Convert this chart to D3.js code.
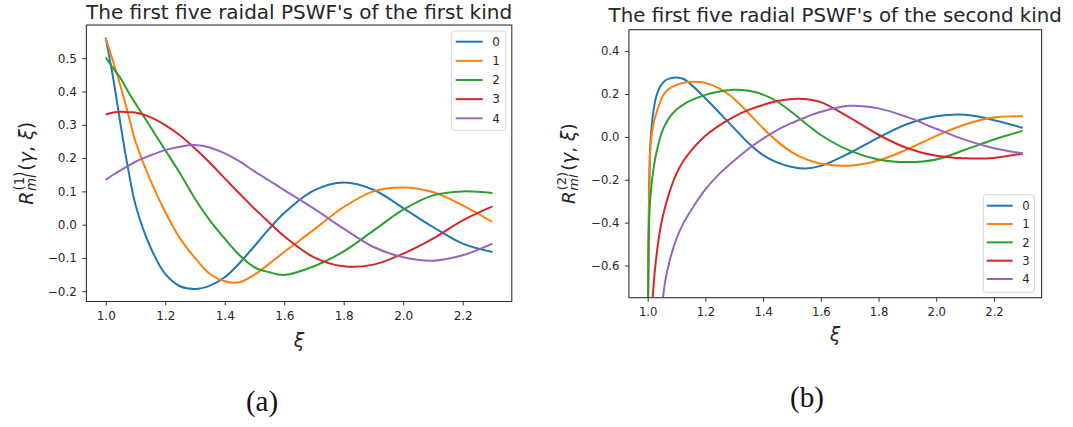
<!DOCTYPE html>
<html>
<head>
<meta charset="utf-8">
<script src="https://cdn.jsdelivr.net/npm/d3@7"></script>
<style>
  html, body { margin: 0; padding: 0; background: #fff; }
  svg { display: block; }
</style>
</head>
<body>
<svg id="chart" width="1073" height="427"></svg>
<script>
// =============================================================================
// Data - values
// =============================================================================
const SERIES_LABELS = ['0', '1', '2', '3', '4'];
const SERIES_COLORS = ['#1f77b4', '#ff7f0e', '#2ca02c', '#d62728', '#9467bd'];

// (a) radial PSWF's of the first kind
const XI_FIRST = [1.0, 1.025, 1.05, 1.075, 1.1, 1.15, 1.2, 1.25, 1.3, 1.35, 1.4, 1.45,
                  1.5, 1.55, 1.6, 1.7, 1.8, 1.9, 2.0, 2.1, 2.2, 2.3];
const R1_0 = [0.562, 0.44, 0.30, 0.169, 0.06, -0.067, -0.148, -0.185, -0.193, -0.183, -0.158, -0.115,
              -0.064, -0.012, 0.035, 0.103, 0.127, 0.105, 0.05, -0.007, -0.057, -0.082];
const R1_1 = [0.56, 0.49, 0.415, 0.334, 0.25, 0.134, 0.038, -0.042, -0.1, -0.148, -0.17, -0.173,
              -0.15, -0.117, -0.082, -0.015, 0.053, 0.1, 0.112, 0.098, 0.058, 0.008];
const R1_2 = [0.502, 0.47, 0.44, 0.40, 0.364, 0.294, 0.224, 0.154, 0.078, 0.013, -0.042, -0.092,
              -0.128, -0.143, -0.151, -0.125, -0.08, -0.018, 0.045, 0.088, 0.1, 0.095];
const R1_3 = [0.331, 0.337, 0.339, 0.338, 0.337, 0.323, 0.299, 0.268, 0.229, 0.186, 0.139, 0.093,
              0.048, 0.006, -0.035, -0.098, -0.125, -0.12, -0.087, -0.042, 0.013, 0.055];
const R1_4 = [0.135, 0.15, 0.163, 0.176, 0.189, 0.208, 0.224, 0.234, 0.239, 0.232, 0.214, 0.19,
              0.16, 0.132, 0.104, 0.048, -0.012, -0.067, -0.098, -0.108, -0.092, -0.057];

// (b) radial PSWF's of the second kind (log singularity at xi = 1)
const XI_SECOND = [1.001, 1.005, 1.01, 1.02, 1.03, 1.04, 1.05, 1.06, 1.075, 1.1, 1.125, 1.15,
                   1.2, 1.25, 1.3, 1.35, 1.4, 1.45, 1.5, 1.55, 1.6, 1.7, 1.8, 1.9, 2.0, 2.1, 2.2, 2.3];
const R2_0 = [-0.8, -0.25, -0.02, 0.12, 0.19, 0.225, 0.247, 0.262, 0.272, 0.277, 0.27, 0.245,
              0.18, 0.11, 0.04, -0.03, -0.085, -0.12, -0.14, -0.147, -0.135, -0.075, -0.003, 0.06,
              0.096, 0.103, 0.078, 0.042];
const R2_1 = [-0.9, -0.3, -0.04, 0.06, 0.11, 0.15, 0.184, 0.205, 0.225, 0.243, 0.253, 0.257,
              0.252, 0.225, 0.177, 0.11, 0.04, -0.022, -0.072, -0.105, -0.125, -0.134, -0.11, -0.058,
              0.005, 0.058, 0.09, 0.096];
const R2_2 = [-0.95, -0.4, -0.27, -0.15, -0.075, -0.02, 0.025, 0.055, 0.09, 0.128, 0.152, 0.17,
              0.196, 0.212, 0.22, 0.215, 0.197, 0.164, 0.115, 0.06, 0.009, -0.064, -0.105, -0.117,
              -0.105, -0.06, -0.012, 0.028];
const R2_3 = [-1.8, -1.3, -0.95, -0.70, -0.56, -0.46, -0.385, -0.33, -0.26, -0.17, -0.11, -0.065,
              0.005, 0.055, 0.095, 0.126, 0.149, 0.167, 0.177, 0.176, 0.162, 0.09, 0.01, -0.053,
              -0.088, -0.1, -0.098, -0.077];
const R2_4 = [-3.0, -2.5, -2.0, -1.5, -1.2, -0.98, -0.79, -0.68, -0.583, -0.474, -0.40, -0.343,
              -0.245, -0.17, -0.11, -0.055, -0.008, 0.033, 0.065, 0.093, 0.117, 0.145, 0.133, 0.092,
              0.038, -0.014, -0.053, -0.077];

const X_TICKS = [1.0, 1.2, 1.4, 1.6, 1.8, 2.0, 2.2];
const Y_TICKS_FIRST = [-0.2, -0.1, 0.0, 0.1, 0.2, 0.3, 0.4, 0.5];
const Y_TICKS_SECOND = [-0.6, -0.4, -0.2, 0.0, 0.2, 0.4];

// =============================================================================
// Visual configuration
// =============================================================================
const FONT = 'DejaVu Sans, sans-serif';
const TEXT_COLOR = '#262626';
const SPINE_COLOR = '#333';
const LINE_WIDTH = 2;

const svg = d3.select('#chart');

const panels = [
    {
        id: 'a',
        frame: { left: 86.4, right: 511.8, top: 25, bottom: 301.5 },
        xs: XI_FIRST,
        series: [R1_0, R1_1, R1_2, R1_3, R1_4],
        yDomain: null, // autoscaled with 5% margins like matplotlib
        yTicks: Y_TICKS_FIRST,
        tickFont: 12,
        title: "The first five raidal PSWF's of the first kind",
        titleSize: 20,
        titleY: 18.8,
        sup: '1',
        yLabelX: 32.5,
        labelSize: 19,
        xLabelY: 347,
        legend: { x: 451.7, y: 31, w: 54, h: 99.3, rowY: 41.7, rowGap: 19.15, lineW: 27, pad: 4 },
        caption: '(a)',
        captionX: 262,
        captionY: 411
    },
    {
        id: 'b',
        frame: { left: 628.9, right: 1041.6, top: 29.7, bottom: 297.7 },
        xs: XI_SECOND,
        series: [R2_0, R2_1, R2_2, R2_3, R2_4],
        yDomain: [-0.75, 0.5],
        yTicks: Y_TICKS_SECOND,
        tickFont: 11.6,
        title: "The first five radial PSWF's of the second kind",
        titleSize: 19.8,
        titleY: 22,
        sup: '2',
        yLabelX: 574.5,
        labelSize: 18.5,
        xLabelY: 341,
        legend: { x: 983.3, y: 194.7, w: 51.2, h: 97.6, rowY: 205.7, rowGap: 18.33, lineW: 26, pad: 3.4 },
        caption: '(b)',
        captionX: 807,
        captionY: 407
    }
];

panels.forEach(p => drawPanel(p));

function drawPanel(p) {
    const f = p.frame;

    // matplotlib default x margins: 5% of the data span on each side
    const xExt = d3.extent(p.xs);
    const xPad = (xExt[1] - 1.0) * 0.05;
    const xScale = d3.scaleLinear()
        .domain([1.0 - xPad, xExt[1] + xPad])
        .range([f.left, f.right]);

    let yDomain = p.yDomain;
    if (!yDomain) {
        const lo = d3.min(p.series, s => d3.min(s));
        const hi = d3.max(p.series, s => d3.max(s));
        const pad = (hi - lo) * 0.05;
        yDomain = [lo - pad, hi + pad];
    }
    const yScale = d3.scaleLinear()
        .domain(yDomain)
        .range([f.bottom, f.top]);

    // Clip path so the singular branches stop at the frame
    svg.append('defs')
        .append('clipPath')
        .attr('id', 'clip-' + p.id)
        .append('rect')
        .attr('x', f.left)
        .attr('y', f.top)
        .attr('width', f.right - f.left)
        .attr('height', f.bottom - f.top);

    const line = d3.line()
        .x((d, i) => xScale(p.xs[i]))
        .y(d => yScale(d))
        .curve(d3.curveCatmullRom.alpha(0.5));

    svg.append('g')
        .attr('clip-path', `url(#clip-${p.id})`)
        .selectAll('path')
        .data(p.series)
        .join('path')
        .attr('d', d => line(d))
        .attr('fill', 'none')
        .attr('stroke', (d, i) => SERIES_COLORS[i])
        .attr('stroke-width', LINE_WIDTH)
        .attr('stroke-linejoin', 'round');

    // Axes
    const fmt = d3.format('.1f');
    const xAxis = svg.append('g')
        .attr('transform', `translate(0,${f.bottom})`)
        .call(d3.axisBottom(xScale).tickValues(X_TICKS).tickFormat(fmt)
            .tickSize(4).tickSizeOuter(0).tickPadding(6));
    const yAxis = svg.append('g')
        .attr('transform', `translate(${f.left},0)`)
        .call(d3.axisLeft(yScale).tickValues(p.yTicks).tickFormat(fmt)
            .tickSize(4).tickSizeOuter(0).tickPadding(5.5));

    [xAxis, yAxis].forEach(ax => {
        ax.select('.domain').remove();
        ax.attr('font-family', FONT).attr('font-size', p.tickFont);
        ax.selectAll('line').attr('stroke', SPINE_COLOR).attr('stroke-width', 1);
        ax.selectAll('text').attr('fill', TEXT_COLOR);
    });

    // Frame (spines)
    svg.append('rect')
        .attr('x', f.left)
        .attr('y', f.top)
        .attr('width', f.right - f.left)
        .attr('height', f.bottom - f.top)
        .attr('fill', 'none')
        .attr('stroke', SPINE_COLOR)
        .attr('stroke-width', 1.1);

    // Title
    svg.append('text')
        .attr('x', (f.left + f.right) / 2)
        .attr('y', p.titleY)
        .attr('text-anchor', 'middle')
        .attr('font-family', FONT)
        .attr('font-size', p.titleSize)
        .attr('fill', TEXT_COLOR)
        .text(p.title);

    // x label
    svg.append('text')
        .attr('x', (f.left + f.right) / 2)
        .attr('y', p.xLabelY)
        .attr('text-anchor', 'middle')
        .attr('font-family', FONT)
        .attr('font-style', 'italic')
        .attr('font-size', p.labelSize)
        .attr('fill', TEXT_COLOR)
        .text('ξ');

    drawYLabel(p.yLabelX, (f.top + f.bottom) / 2, p.sup, p.labelSize);
    drawLegend(p.legend, p.tickFont);

    // Sub-figure caption
    svg.append('text')
        .attr('x', p.captionX)
        .attr('y', p.captionY)
        .attr('text-anchor', 'middle')
        .attr('font-family', 'Liberation Serif, serif')
        .attr('font-size', 29)
        .attr('fill', '#111')
        .text(p.caption);
}

// R_{ml}^{(k)}(γ, ξ) written as mathtext, rotated
function drawYLabel(cx, cy, sup, size) {
    const g = svg.append('g')
        .attr('transform', `translate(${cx},${cy}) rotate(-90)`);
    const inner = g.append('g')
        .attr('font-family', FONT)
        .attr('fill', TEXT_COLOR);

    const small = size * 0.7;
    const r = inner.append('text')
        .attr('font-size', size)
        .attr('font-style', 'italic')
        .text('R');
    const wR = r.node().getComputedTextLength();

    const supText = inner.append('text')
        .attr('x', wR + 1)
        .attr('y', -size * 0.45)
        .attr('font-size', small)
        .text(`(${sup})`);
    const subText = inner.append('text')
        .attr('x', wR + 0.5)
        .attr('y', size * 0.2)
        .attr('font-size', small)
        .attr('font-style', 'italic')
        .text('ml');
    const wScript = Math.max(supText.node().getComputedTextLength(),
                             subText.node().getComputedTextLength());

    const rest = inner.append('text')
        .attr('x', wR + 1 + wScript + 1)
        .attr('font-size', size);
    rest.append('tspan').text('(');
    rest.append('tspan').attr('font-style', 'italic').text('γ');
    rest.append('tspan').text(', ');
    rest.append('tspan').attr('font-style', 'italic').text('ξ');
    rest.append('tspan').text(')');

    const total = wR + 2 + wScript + rest.node().getComputedTextLength();
    inner.attr('transform', `translate(${-total / 2},0)`);
}

function drawLegend(lg, fontSize) {
    const g = svg.append('g');
    g.append('rect')
        .attr('x', lg.x)
        .attr('y', lg.y)
        .attr('width', lg.w)
        .attr('height', lg.h)
        .attr('rx', 3)
        .attr('fill', 'white')
        .attr('fill-opacity', 0.8)
        .attr('stroke', '#d6d6d6')
        .attr('stroke-width', 1);

    const rows = g.selectAll('g.row')
        .data(SERIES_LABELS)
        .join('g')
        .attr('class', 'row')
        .attr('transform', (d, i) => `translate(0,${lg.rowY + i * lg.rowGap})`);

    rows.append('line')
        .attr('x1', lg.x + lg.pad)
        .attr('x2', lg.x + lg.pad + lg.lineW)
        .attr('stroke', (d, i) => SERIES_COLORS[i])
        .attr('stroke-width', LINE_WIDTH);

    rows.append('text')
        .attr('x', lg.x + lg.pad + lg.lineW + 9.5)
        .attr('dy', '0.36em')
        .attr('font-family', FONT)
        .attr('font-size', fontSize)
        .attr('fill', TEXT_COLOR)
        .text(d => d);
}
</script>
</body>
</html>
